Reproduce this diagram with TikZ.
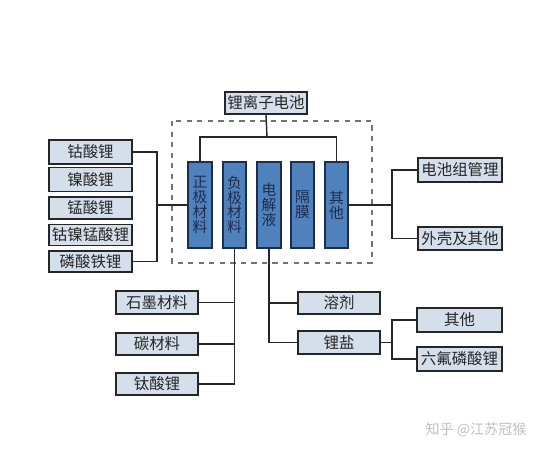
\documentclass[tikz,border=0pt]{standalone}
\usepackage{fontspec}
\setmainfont{Noto Sans CJK SC}
\usetikzlibrary{calc}

\definecolor{cellfill}{HTML}{D5DEEB}
\definecolor{barfill}{HTML}{4F81BD}
\definecolor{barline}{HTML}{1F2D4D}

\begin{document}
\begin{tikzpicture}[x=0.02cm,y=-0.02cm,
  cell/.style={draw=black!85,line width=1.1pt,fill=cellfill,inner sep=0pt,
    font=\fontsize{8.8}{9.5}\selectfont,text=black!85},
  bar/.style={draw=barline,line width=0.9pt,fill=barfill,inner sep=0pt,
    minimum width=0.47cm,minimum height=1.72cm,align=center,
    font=\fontsize{8.4}{8.4}\selectfont,text=barline},
  link/.style={line width=0.8pt,draw=black!85}]

\useasboundingbox (0,0) rectangle (550,450);

% ----- helper: box with size in pixels -----
% \Cell{name}{cx}{cy}{w}{h}{text}
\newcommand{\Cell}[6]{%
  \node[cell,minimum width={#4*0.02cm},minimum height={#5*0.02cm}] (#1) at (#2,#3) {#6};
}

% top
\Cell{top}{266}{103}{82}{22}{锂离子电池}
\draw[dashed,line width=0.8pt,black!55] (172,121) rectangle (372,263);

% components
\node[bar] (zj) at (200,205) {正\\极\\材\\料};
\node[bar] (fj) at (234.5,205) {负\\极\\材\\料};
\node[bar] (dj) at (269,205) {电\\解\\液};
\node[bar] (gm) at (302.5,205) {隔\\膜};
\node[bar] (qt) at (336.5,205) {其\\他};

\coordinate (bus) at (267,137);
\draw[link] (top.south) -- (bus);
\draw[link] (zj.north) |- (bus) -| (qt.north);

% cathode
\Cell{gs}{90.5}{152}{83}{24}{钴酸锂}
\Cell{ns}{90.5}{179.5}{83}{24}{镍酸锂}
\Cell{ms}{90.5}{208}{83}{22}{锰酸锂}
\Cell{gnm}{90.5}{235}{83}{21}{钴镍锰酸锂}
\Cell{lt}{90.5}{261.5}{83}{21}{磷酸铁锂}

\coordinate (lbr) at (157,205);
\draw[link] (gs.east) -| (lbr) |- (lt.east);
\draw[link] (lbr) -- (zj.west);

% others
\Cell{dczgl}{460}{170}{84}{24}{电池组管理}
\Cell{wk}{460}{238.5}{84}{23}{外壳及其他}

\coordinate (rbr) at (392,205);
\draw[link] (qt.east) -- (rbr);
\draw[link] (dczgl.west) -| (rbr) |- (wk.west);

% anode
\Cell{sm}{157}{302.5}{82}{23}{石墨材料}
\Cell{tc}{157}{344}{82}{22}{碳材料}
\Cell{tsl}{157}{384}{82}{22}{钛酸锂}

\draw[link] (fj.south) |- (tsl.east);
\draw[link] (sm.east) -- (sm.east -| fj.south);
\draw[link] (tc.east) -- (tc.east -| fj.south);

% electrolyte
\Cell{rj}{339}{303}{82}{22}{溶剂}
\Cell{ly}{339}{342.5}{82}{23}{锂盐}

\draw[link] (dj.south) |- (ly.west);
\draw[link] (rj.west) -| (dj.south);

\Cell{qt2}{459.5}{320}{85}{24}{其他}
\Cell{lfp}{459.5}{359}{85}{24}{六氟磷酸锂}

\coordinate (lbr2) at (392,342.5);
\draw[link] (ly.east) -- (lbr2);
\draw[link] (qt2.west) -| (lbr2) |- (lfp.west);

% watermark
\node[text=black!25,font=\fontsize{8}{9}\selectfont] (wm) at (476,430) {知乎 @江苏冠猴};

\end{tikzpicture}
\end{document}
